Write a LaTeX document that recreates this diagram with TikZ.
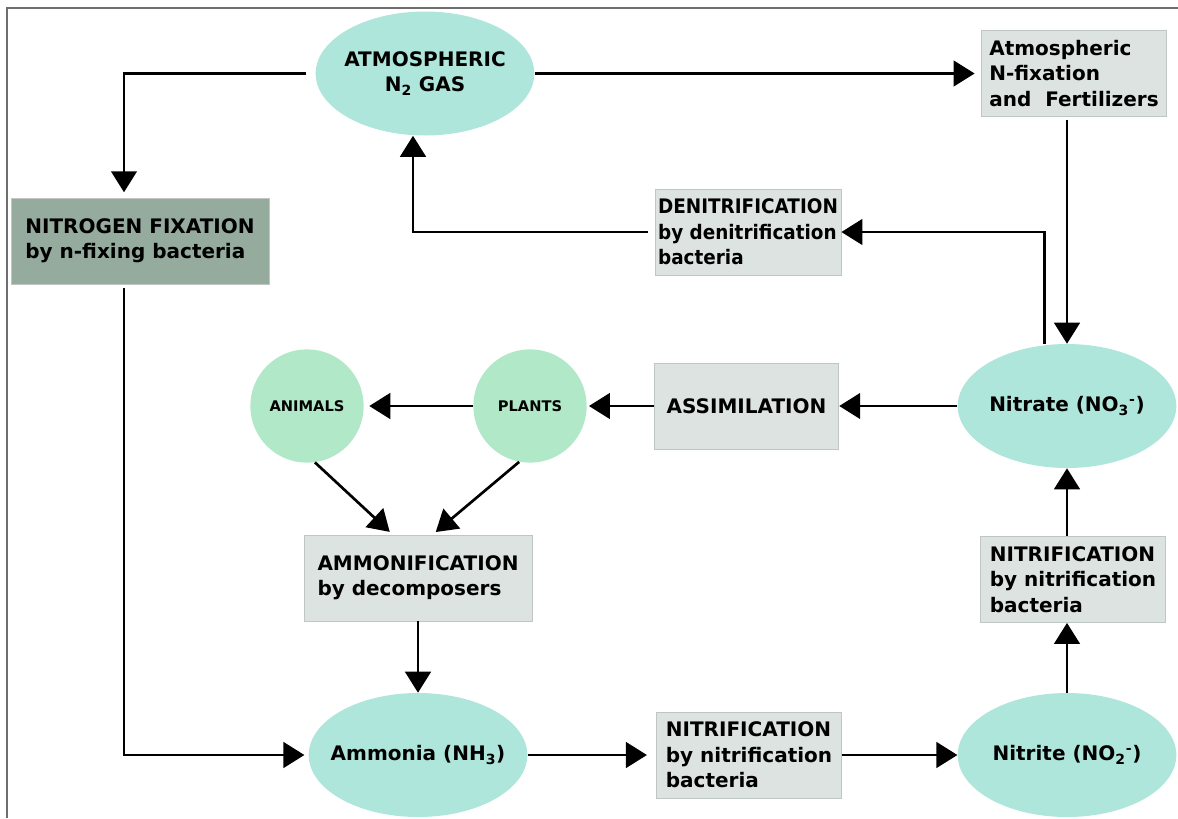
\documentclass[tikz,border=0pt]{standalone}
\usepackage{fontspec}
\setmainfont{DejaVu Sans}
\usetikzlibrary{arrows.meta,shapes.geometric}

\definecolor{gasfill}{RGB}{174,230,220}
\definecolor{lifefill}{RGB}{176,232,200}
\definecolor{procfill}{RGB}{220,227,224}
\definecolor{procline}{RGB}{192,198,195}
\definecolor{fixfill}{RGB}{148,171,158}
\definecolor{framegray}{RGB}{110,110,110}

\begin{document}
\begin{tikzpicture}[x=0.75pt,y=0.75pt,yscale=-1,xscale=1,
  gas/.style={ellipse, fill=gasfill, minimum width=164pt, minimum height=93pt, inner xsep=-10pt, inner ysep=0pt, align=center, font=\bfseries\fontsize{15}{19}\selectfont},
  life/.style={circle, fill=lifefill, minimum size=85pt, inner sep=0pt, font=\bfseries\fontsize{11}{13}\selectfont},
  proc/.style={rectangle, draw=procline, line width=0.6pt, fill=procfill, align=left, minimum width=138.5pt, minimum height=64.5pt, inner sep=0pt, font=\bfseries\fontsize{15}{19}\selectfont},
  flow/.style={line width=2pt, -{Triangle[length=15.75pt,width=19.2pt]}}]
			\useasboundingbox (0,0) rectangle (1178,818);

			%Straight Lines [frame]
			\draw [framegray, line width=0.9pt]  (7,818) -- (7,8) -- (1178,8) ;

			%Shape: Ellipse [gas nodes]
			\node [gas] (n2) at (425,73.5) {ATMOSPHERIC\\N\textsubscript{2} GAS};
			\node [gas] (nitrate) at (1067,406) {Nitrate (NO\textsubscript{3}\textsuperscript{-})};
			\node [gas] (ammonia) at (418,755) {Ammonia (NH\textsubscript{3})};
			\node [gas] (nitrite) at (1067,755) {Nitrite (NO\textsubscript{2}\textsuperscript{-})};

			%Shape: Circle [living things]
			\node [life] (animals) at (307,406) {ANIMALS};
			\node [life] (plants) at (530,406) {PLANTS};

			%Shape: Rectangle [processes]
			\node [proc, fill=fixfill, minimum width=193.5pt] (nfix) at (140,241) {NITROGEN FIXATION\\by n-fixing bacteria};
			\node [proc] (atmfix) at (1074,73.5) {Atmospheric\\N-fixation\\and\ \ Fertilizers};
			\node [proc, minimum width=139.5pt, font=\bfseries\fontsize{15}{19}\selectfont\addfontfeature{FakeStretch=0.92}] (denit) at (748,232) {DENITRIFICATION\\by denitrification\\bacteria};
			\node [proc] (assim) at (746.5,406) {ASSIMILATION};
			\node [proc, minimum width=171pt] (ammonif) at (418,578) {AMMONIFICATION\\by decomposers};
			\node [proc] (nitrif) at (749,755) {NITRIFICATION\\by nitrification\\bacteria};
			\node [proc] (nitrifup) at (1073,579.5) {NITRIFICATION\\by nitrification\\bacteria};

			%Connectors [top loop]
			\draw [flow, shorten <=7pt, shorten >=4pt]  (n2.west) -| ([xshift=-12pt]nfix.north) ;
			\draw [flow, shorten >=5pt]  (n2.east) -- (atmfix.west) ;
			\draw [flow, shorten <=2pt]  (atmfix.south -| nitrate.north) -- (nitrate.north) ;
			\draw [flow]  ([xshift=-17pt]nitrate.north) |- (denit.east) ;
			\draw [flow, shorten <=5pt]  (denit.west) -| ([xshift=-9pt]n2.south) ;

			%Connectors [assimilation]
			\draw [flow]  (nitrate.west) -- (assim.east) ;
			\draw [flow, shorten >=1.5pt]  (assim.west) -- (plants.east) ;
			\draw [flow, shorten >=4pt]  (plants.west) -- (animals.east) ;
			\draw [flow, shorten >=3pt]  (animals.-82) -- ([xshift=-19pt]ammonif.north) ;
			\draw [flow, shorten >=3pt]  (plants.-101) -- ([xshift=11pt]ammonif.north) ;
			\draw [flow]  (ammonif.south) -- (ammonia.north) ;

			%Connectors [bottom loop]
			\draw [flow, shorten <=3pt, shorten >=3pt]  ([xshift=-12pt]nfix.south) |- (ammonia.west) ;
			\draw [flow, shorten >=7pt]  (ammonia.east) -- (nitrif.west) ;
			\draw [flow]  (nitrif.east) -- (nitrite.west) ;
			\draw [flow]  (nitrite.north) -- (nitrite.north |- nitrifup.south) ;
			\draw [flow]  (nitrifup.north -| nitrate.south) -- (nitrate.south) ;

\end{tikzpicture}
\end{document}
